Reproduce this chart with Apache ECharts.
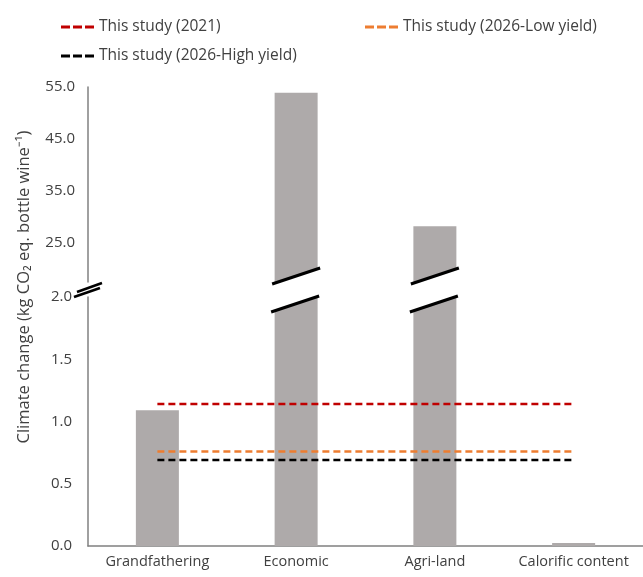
<!DOCTYPE html>
<html>
<head>
  <meta charset="UTF-8" />
  <title></title>
  <style type="text/css">
    * { margin: 0; padding: 0; }
    #main { width: 643px; height: 577px; background: #fff; }
  </style>
</head>
<body>
  <div id="main"></div>
</body>
<script src="https://cdn.jsdelivr.net/npm/echarts@6/dist/echarts.min.js"></script>
<script type="text/javascript">
  // data
  let categories = ['Grandfathering', 'Economic', 'Agri-land', 'Calorific content']
  let barValues = [1.09, 53.9, 28.2, 0.025]
  let study2021 = [1.14, 1.14, 1.14, 1.14]
  let studyLow = [0.76, 0.76, 0.76, 0.76]
  let studyHigh = [0.69, 0.69, 0.69, 0.69]
  let lowerTicks = [0, 0.5, 1.0, 1.5, 2.0]
  let upperTicks = [25, 35, 45, 55]

  let lowerMax = 2.0
  let upperMin = 17.5
  let upperMax = 55
  let font = 'Open Sans'
  let textColor = '#404040'
  let axisColor = '#808080'
  // three short dashes for the legend icon
  let dashIcon = 'path://M0,0h9v3h-9zM12,0h9v3h-9zM24,0h9v3h-9z'

  let myChart = echarts.init(document.getElementById('main'))

  function dashed(name, data, color) {
    return {
      name: name,
      type: 'line',
      xAxisIndex: 1,
      yAxisIndex: 1,
      data: data,
      symbol: 'none',
      silent: true,
      z: 5,
      lineStyle: { color: color, width: 2.5, type: [7, 4] },
      itemStyle: { color: color }
    }
  }

  function legend(name, left, top) {
    return {
      data: [{ name: name, icon: dashIcon }],
      left: left,
      top: top,
      itemWidth: 33,
      itemHeight: 3,
      itemGap: 4,
      textStyle: { fontFamily: font, fontSize: 15.5, color: textColor },
      selectedMode: false
    }
  }

  let option = {
    animation: false,
    backgroundColor: '#fff',
    legend: [
      legend('This study (2021)', 56, 14),
      legend('This study (2026-Low yield)', 360, 14),
      legend('This study (2026-High yield)', 56, 43)
    ],
    grid: [
      { left: 88, top: 87, width: 563, height: 195 },
      { left: 88, top: 297, width: 563, height: 249 }
    ],
    xAxis: [
      { type: 'category', gridIndex: 0, data: categories, show: false },
      {
        type: 'category', gridIndex: 1, data: categories,
        axisLine: { lineStyle: { color: axisColor, width: 1.5 } },
        axisTick: { show: false },
        axisLabel: { fontFamily: font, fontSize: 14.5, color: textColor, margin: 8, interval: 0 }
      }
    ],
    yAxis: [
      {
        type: 'value', gridIndex: 0, min: upperMin, max: upperMax, interval: 2.5,
        axisLine: { show: true, lineStyle: { color: axisColor, width: 1.5 } },
        axisTick: { show: false },
        splitLine: { show: false },
        axisLabel: {
          fontFamily: font, fontSize: 15, color: textColor, margin: 13,
          formatter: v => upperTicks.indexOf(v) > -1 ? v.toFixed(1) : ''
        }
      },
      {
        type: 'value', gridIndex: 1, min: 0, max: lowerMax, interval: 0.5,
        axisLine: { show: true, lineStyle: { color: axisColor, width: 1.5 } },
        axisTick: { show: false },
        splitLine: { show: false },
        axisLabel: {
          fontFamily: font, fontSize: 15, color: textColor, margin: 16,
          formatter: v => lowerTicks.indexOf(v) > -1 ? v.toFixed(1) : ''
        }
      }
    ],
    series: [
      {
        type: 'bar', xAxisIndex: 0, yAxisIndex: 0, barWidth: 43,
        data: barValues.map(v => v > upperMin ? v : '-'),
        itemStyle: { color: '#AEAAAA' }
      },
      {
        type: 'bar', xAxisIndex: 1, yAxisIndex: 1, barWidth: 43,
        data: barValues,
        itemStyle: { color: '#AEAAAA' }
      },
      dashed('This study (2021)', study2021, '#C00000'),
      dashed('This study (2026-Low yield)', studyLow, '#ED7D31'),
      dashed('This study (2026-High yield)', studyHigh, '#000000')
    ]
  }
  myChart.setOption(option)

  // break marks, placed from the axes
  let yU = myChart.convertToPixel({ yAxisIndex: 0 }, upperMin)
  let yL = myChart.convertToPixel({ yAxisIndex: 1 }, lowerMax)
  let ax = myChart.convertToPixel({ xAxisIndex: 1 }, 0) - 70.4
  let elements = [
    {
      type: 'text', x: 24, y: 287, rotation: Math.PI / 2, z: 100,
      style: {
        text: 'Climate change (kg CO₂ eq. bottle wine⁻¹)',
        fontFamily: font, fontSize: 16.5, fill: textColor,
        align: 'center', verticalAlign: 'middle',
        textAlign: 'center', textVerticalAlign: 'middle'
      }
    },
    { type: 'polygon', z: 100, shape: { points: [[ax - 14, yL + 1], [ax + 15, yL - 10], [ax + 15, yL - 15], [ax - 14, yL - 4]] }, style: { fill: '#fff' } },
    { type: 'line', z: 101, shape: { x1: ax - 13, y1: yL, x2: ax + 13, y2: yL - 9 }, style: { stroke: '#000', lineWidth: 2.5 } },
    { type: 'line', z: 101, shape: { x1: ax - 10, y1: yL - 5, x2: ax + 15, y2: yL - 14 }, style: { stroke: '#000', lineWidth: 2.5 } }
  ]
  barValues.forEach((v, i) => {
    if (v <= lowerMax) return
    let cx = myChart.convertToPixel({ xAxisIndex: 1 }, i)
    let l = cx - 24, r = cx + 24
    elements.push({
      type: 'polygon', z: 100,
      shape: { points: [[l, yU + 2], [r, yU - 14], [r, yL - 1], [l, yL + 15]] },
      style: { fill: '#fff' }
    })
    elements.push({ type: 'line', z: 101, shape: { x1: l, y1: yU + 2, x2: r, y2: yU - 14 }, style: { stroke: '#000', lineWidth: 3 } })
    elements.push({ type: 'line', z: 101, shape: { x1: l - 1, y1: yL + 15, x2: r - 1, y2: yL - 1 }, style: { stroke: '#000', lineWidth: 3 } })
  })
  myChart.setOption({ graphic: elements })
</script>
</html>
